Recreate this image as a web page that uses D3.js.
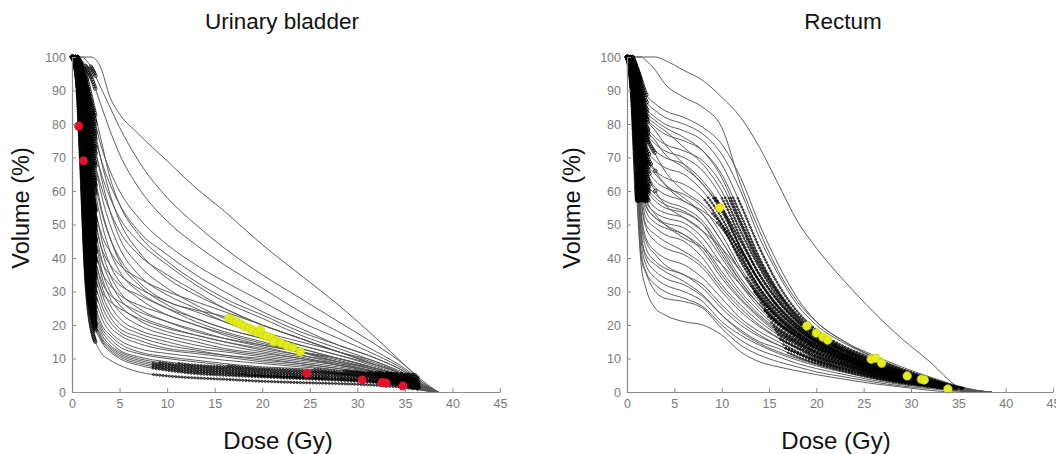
<!DOCTYPE html>
<html><head><meta charset="utf-8">
<script src="https://cdn.jsdelivr.net/npm/d3@7"></script>
<style>
body{margin:0;background:#fff}
text{font-family:Arial,"Liberation Sans",Helvetica,sans-serif}
.tick text{font-family:"Liberation Sans Narrow","Liberation Sans",Arial,sans-serif}
</style>
</head><body>
<svg id="chart" width="1056" height="454"></svg>
<script>
// ---------- tick labels ----------
const doseTicks = [0,5,10,15,20,25,30,35,40,45];
const volumeTicks = [0,10,20,30,40,50,60,70,80,90,100];

// ---------- Urinary bladder DVHs (volume % at each dose of bladderDose) ----------
const bladderDose = [0,0.5,1,1.5,2,3,4,5,7,10,13,16,20,24,28,32,35,37,38.5];
const bladderCurves = [
 [100,100,100,100,100,97,88,83,77,69,61,54,44,35,26,16,8,2.5,0],
 [100,100,100,99,97,91,85,79,69,58,50,43,35,28,21,14,8,3,0],
 [100,100,99,97,94,86,78,71,61,51,44,38,31,24,18,12,7,2.5,0],
 [100,100,97,92,86,74,66,60,52,44,38,33,27,21,16,11,6.5,2,0],
 [100,100,96,90,82,70,62,56,48,41,35,30,24,19,14,10,6,2,0],
 [100,100,95,87,78,66,58,52,45,38,32,27,22,17,13,9,5.5,1.8,0],
 [100,99,93,84,74,62,54,48,41,35,30,25,20,16,12,8.5,5,1.6,0],
 [100,100,98,94,88,76,64,56,47,39,33,28,23,18,14,10,6,2,0],
 [100,100,97,91,84,70,59,51,42,34,29,25,20,16,12,9,5,1.5,0],
 [100,100,96,88,80,65,54,46,38,31,26,22,18,15,12,8,5,1.5,0],
 [100,100,95,86,76,60,50,43,35,29,25,21,17,14,11,8,5,1.5,0],
 [100,99,94,84,72,56,46,39,32,26,22,19,16,13,10,7,4.5,1.5,0],
 [100,99,93,81,68,52,42,36,30,25,21,18,15,12,10,7,4,1.2,0],
 [100,99,93,82,70,55,46,40,33,27,24.5,22.5,17,12,9,6.5,4,1.2,0],
 [100,99,90,75,62,48,42,38,34,30,27,24,20,16,12,8,5,1.5,0],
 [100,99,88,72,58,44,38,35,31,27,24,21,17.5,14,11,7.5,4.5,1.4,0],
 [100,98,86,68,54,40,35,32,29,25,22,19,16,13,10,7,4.2,1.3,0],
 [100,98,84,65,50,37,32,29,26,23,20,17.5,14.5,12,9.5,6.5,4,1.2,0],
 [100,98,82,62,47,34,29,27,24,21,18.5,16,13.5,11,8.5,6,3.8,1.1,0],
 [100,97,80,58,43,31,27,25,22,19,17,15,12.5,10.5,8,5.8,3.6,1,0],
 [100,99,92,78,64,47,38,33,28,23,20,17,14,12,10,7,4,1.2,0],
 [100,99,91,76,61,44,35,30,25,21,18,16,14,12,9,7,4,1,0],
 [100,99,90,74,58,41,33,28,23,19.5,17,15,13,11,9,6.5,4,1,0],
 [100,99,89,71,55,38,30,26,21.5,18,16,14,12,10,8.5,6,3.5,1,0],
 [100,98,88,69,52,36,28,24,20,17,15,13,11.5,10,8,6,3.5,1,0],
 [100,98,87,66,49,33,26,22,18.5,16,14,12.5,11,9.5,8,6,3.5,1,0],
 [100,98,86,63,46,31,24,20.5,17.5,15,13,12,10.5,9,7.5,5.5,3,1,0],
 [100,98,85,60,43,29,22.5,19,16.5,14,12.5,11,10,8.5,7,5.5,3,1,0],
 [100,98,84,57,40,27,21,18,15.5,13,12,11,9.5,8.5,7,5,3,1,0],
 [100,97,83,55,38,25,19.5,17,14.5,12.5,11.5,10.5,9,8,6.5,5,3,0.9,0],
 [100,97,82,52,35,23,18,15.5,13,11.5,10.5,9.5,8.5,7.5,6.5,5,3,0.8,0],
 [100,97,81,50,33,21,17,14.5,12,10.5,9.5,8.5,7.5,7,6,4.5,2.8,0.8,0],
 [100,97,80,48,31,20,16,13.5,11.5,10,9,8,7,6.5,5.5,4.5,2.5,0.7,0],
 [100,96,78,46,29,19,15,12.5,10.5,9,8,7.5,6.5,6,5.5,4,2.5,0.7,0],
 [100,96,76,44,28,18,14,12,10,8.5,7.5,7,6,5.5,5,4,2.3,0.6,0],
 [100,96,74,42,27,17,13.5,11.5,9.5,8,7,6.5,5.5,5,4.5,3.5,2.2,0.6,0],
 [100,95,72,40,26,16.5,13,11,9,7.5,6.5,6,5,4.5,4,3.2,2,0.5,0],
 [100,95,70,38,25,16,12.5,10.5,8.5,7,6,5.5,4.8,4.3,3.8,3,1.8,0.5,0],
 [100,94,68,36,24,15.5,12,10,8,6.5,5.5,5,4.5,4,3.5,2.8,1.7,0.5,0],
 [100,94,66,34,20,12,9.5,8,6,4.8,4.2,3.8,3.2,2.8,2.5,2,1.3,0.4,0]
];
const bladderYellow = [[16.5,22],[16.9,21.4],[17.3,20.8],[17.7,20.3],[18.1,19.6],[18.6,19.1],[19.0,18.4],[19.5,17.8],[20.0,17.2],[20.5,16.6],[21.0,16.0],[21.5,15.2],[22.0,14.6],[22.6,13.8],[23.2,13.2],[24.0,12.0],[19.8,18.6],[21.2,15.0]];
const bladderRed = [[0.7,79.4],[1.2,69],[24.7,5.6],[30.5,3.6],[32.6,2.8],[33.0,2.7],[34.8,1.8]];

// ---------- Rectum DVHs (volume % at each dose of rectumDose) ----------
const rectumDose = [0,0.5,1,1.5,2,3,4,6,8,10,12,14,16,18,20,23,26,29,32,35,37,38.5];
const rectumCurves = [
 [100,100,100,100,100,100,99,96,93,88,82,73,62,51,43,33,24,16,9,1.5,0,0],
 [100,100,100,100,99,96,92,88,85,79,62,48,36,27,21,15,10.5,7,4,1.5,0.3,0],
 [100,100,97,93,89,86,84,82,79,74,64,50,38,28,21,15,11,7.5,4.5,1.8,0.5,0],
 [100,100,97,92,87,84,82,80,77,71,60,46,35,26,20,14.5,10.5,7,4.2,1.6,0.4,0],
 [100,99,96,90,85,82,80,78,75,68,56,43,32,24,18.5,13.5,10,6.8,4,1.5,0.4,0],
 [100,99,95,88,82,79,77,75,72,65,53,40,30,23,18,13,9.5,6.5,3.8,1.4,0.3,0],
 [100,99,94,86,80,76,74,72,69,62,50,38,29,22,17,12.5,9,6,3.5,1.3,0.3,0],
 [100,99,93,84,78,74,72,70,66,58,46,35,27,21,16.5,12,8.5,5.8,3.3,1.2,0.3,0],
 [100,98,92,82,76,72,70,68,63,55,43,33,25.5,20,16,11.5,8,5.5,3.2,1.2,0.3,0],
 [100,98,91,80,73,69,67,65,60,52,41,31,24,19,15,11,7.8,5.2,3,1.1,0.3,0],
 [100,98,90,78,70,66,64,62,58,50,39,30,23,18.5,15,11,7.5,5,3,1,0.2,0],
 [100,98,89,76,68,63,61,59,55,47,37,29,22.5,18,14.5,10.5,7.2,4.8,2.8,1,0.2,0],
 [100,97,88,74,65,61,59,57,53,45,36,28,22,17.5,14,10,7,4.6,2.7,0.9,0.2,0],
 [100,97,87,72,63,59,57,55,51,43,34,27,21,17,13.5,9.8,6.8,4.5,2.6,0.9,0.2,0],
 [100,97,86,70,61,57,55,53.5,50,42,33,26,20.5,16.5,13,9.5,6.5,4.3,2.5,0.8,0.2,0],
 [100,96,85,68,59,55,53.5,52,48,40,32,25,20,16,12.5,9.2,6.3,4.1,2.4,0.8,0.2,0],
 [100,96,84,66,57,53.5,52,50.5,46,38,30,24,19,15.5,12,9,6,4,2.3,0.8,0.2,0],
 [100,96,83,64,55.5,52,50.5,49,44,36,29,23,18.5,15,11.5,8.5,5.8,3.8,2.2,0.7,0.1,0],
 [100,95,82,62,54,50.5,49,47,42,34,27.5,22,17.5,14.5,11,8.2,5.6,3.6,2.1,0.7,0.1,0],
 [100,95,80,60,52,49,47,45,40,32,26,21,17,14,10.5,8,5.4,3.5,2,0.7,0.1,0],
 [100,95,78,57,49,45,43,41,37,30,24,19.5,16,13,10,7.5,5,3.3,1.9,0.6,0.1,0],
 [100,94,76,54,46,42,40,38,34,28,22,18,15,12,9.5,7,4.8,3.1,1.8,0.6,0.1,0],
 [100,94,74,51,43,39,37,35,31,25,20,16.5,14,11.5,9,6.6,4.5,2.9,1.7,0.5,0.1,0],
 [100,93,72,48,40,36,34,32,28.5,23,18.5,15,13,10.5,8.5,6.2,4.2,2.7,1.6,0.5,0,0],
 [100,93,70,45,38,34,32,30,27,21,17,14,11.5,9.5,7.8,5.8,4,2.5,1.5,0.5,0,0],
 [100,92,67,42,36,32,30,28,25.5,20,15.5,12.5,10.5,8.5,7,5.2,3.5,2.2,1.3,0.4,0,0],
 [100,91,63,40,35.5,30,28,27,25,19,14,11,9,7.5,6,4.5,3,1.8,1,0.3,0,0],
 [100,90,60,38,31,25,23,21,20,17,12,9,7.5,6.3,5.2,3.8,2.5,1.5,0.5,0,0,0],
 [100,99,95,89,84,81,79,76,72,64,51,39,29.5,22.5,17.5,12.8,9.2,6.2,3.6,1.3,0.3,0],
 [100,98,93,85,79,75,71,67,62,54,43,33,25,19.5,15.5,11.2,7.8,5.2,3,1.1,0.2,0],
 [100,97,89,77,69,65,62,58,53,45,36,28,22,17.5,14,10.2,7,4.6,2.7,0.9,0.2,0],
 [100,96,86,71,62,58,56,54,50,41,33,26,20.5,16.5,13,9.5,6.4,4.2,2.5,0.8,0.1,0],
 [100,95,83,65,56,52,50,47,43,35,28,22.5,18,14.8,11.8,8.6,5.9,3.8,2.2,0.7,0.1,0],
 [100,94,79,58,50,47,45,42,38,31,25,20,16.2,13.3,10.6,7.8,5.3,3.4,2,0.6,0.1,0],
 [100,93,75,52,45,41,38,35,32,26,21,17,14,11.5,9.3,6.9,4.7,3,1.7,0.5,0,0],
 [100,92,71,47,41,38,36,33,29,23,18,14.5,12,10,8.2,6,4.1,2.6,1.5,0.4,0,0],
 [100,99,94,87,82,78,74,68,62,55,45,35,27,21,16.5,12,8.5,5.7,3.3,1.2,0.3,0],
 [100,98,92,83,77,71,66,60,56,50,42,33,25.5,20,15.5,11.3,8,5.3,3.1,1.1,0.2,0],
 [100,97,90,80,72,66,62,57,54,49,40,31,24,19,15,10.8,7.6,5,2.9,1,0.2,0],
 [100,99,95,88,83,80,78,73,68,60,48,37,28,21.5,17,12.3,8.8,5.9,3.4,1.2,0.3,0],
 [100,97,88,76,66,60,56,52,48,43,36,28.5,22,17.5,14,10.3,7.2,4.7,2.7,0.9,0.2,0],
 [100,96,84,68,58,53,50,46,43,38,32,26,20.5,16.6,13.3,9.8,6.8,4.4,2.5,0.8,0.1,0]
];
const rectumYellow = [[9.8,55],[19.0,19.7],[20.0,17.6],[20.7,16.4],[21.2,15.5],[25.8,9.8],[26.3,10.1],[26.9,8.6],[29.6,4.8],[31.1,3.8],[31.4,3.6],[33.9,0.9]];

// ---------- drawing ----------
const svg = d3.select("#chart");
const yScale = d3.scaleLinear().domain([0,100]).range([392,57]);

function panel(o){
  const x = d3.scaleLinear().domain([0,45]).range([o.x0, o.x45]);
  const g = svg.append("g");
  const line = d3.line().x(d=>x(d[0])).y(d=>yScale(d[1])).curve(d3.curveMonotoneX);
  const markers = [];
  o.curves.forEach((c,ci)=>{
    const pts = o.dose.map((d,i)=>[d,c[i]]).filter(p=>p[1]!==undefined);
    const p = g.append("path").attr("d", line(pts))
      .attr("fill","none").attr("stroke","#555").attr("stroke-width",0.95);
    const node = p.node(), L = node.getTotalLength();
    let prev = node.getPointAtLength(0), lastMark = -99;
    for(let s=0; s<=L; s+=0.8){
      const q = node.getPointAtLength(s);
      const steep = Math.abs(q.y-prev.y) > 1.6*Math.abs(q.x-prev.x);
      prev = q;
      const r = o.dense(x.invert(q.x), yScale.invert(q.y), steep, c);
      if(r>0 && s-lastMark >= (r>1.4?1.6:2.8)){ markers.push([q.x,q.y,r]); lastMark = s; }
    }
  });
  g.append("g").selectAll("circle").data(markers).join("circle")
    .attr("cx",d=>d[0]).attr("cy",d=>d[1]).attr("r",d=>d[2])
    .attr("fill","none").attr("stroke","#000").attr("stroke-width",0.8);
  g.append("g").selectAll("circle").data(o.yellow).join("circle")
    .attr("cx",d=>x(d[0])).attr("cy",d=>yScale(d[1])).attr("r",4.3)
    .attr("fill","#e2ec1a").attr("stroke","#c8d010").attr("stroke-width",0.6);
  g.append("g").selectAll("circle").data(o.red||[]).join("circle")
    .attr("cx",d=>x(d[0])).attr("cy",d=>yScale(d[1])).attr("r",4.5)
    .attr("fill","#e5102c");

  const ax = g.append("g").attr("transform",`translate(0,392)`)
    .call(d3.axisBottom(x).tickValues(doseTicks).tickSize(-4).tickSizeOuter(0).tickPadding(7));
  const ay = g.append("g").attr("transform",`translate(${o.x0},0)`)
    .call(d3.axisLeft(yScale).tickValues(volumeTicks).tickSize(-4).tickSizeOuter(0).tickPadding(6));
  [ax,ay].forEach(a=>{
    a.select(".domain").attr("stroke","#8a8a8a").attr("stroke-width",1.2);
    a.selectAll(".tick line").attr("stroke","#8a8a8a");
    a.selectAll(".tick text").attr("fill","#7a7a7a").attr("font-size",12.5);
  });
  g.append("text").attr("x",o.titleX).attr("y",29).attr("text-anchor","middle")
    .attr("font-size",22.5).attr("fill","#111").text(o.title);
  g.append("text").attr("x",o.doseX).attr("y",449).attr("text-anchor","middle")
    .attr("font-size",24).attr("fill","#111").text("Dose (Gy)");
  g.append("text").attr("transform",`translate(${o.ylabX},208) rotate(-90)`)
    .attr("text-anchor","middle").attr("font-size",23.5).attr("fill","#111").text("Volume (%)");
}

panel({x0:72, x45:500, dose:bladderDose, curves:bladderCurves, yellow:bladderYellow, red:bladderRed,
  title:"Urinary bladder", titleX:282, doseX:278, ylabX:29,
  dense:(d,v,steep)=> (d<=0.7 || (d<=2.5 && steep)) ? 1.7
        : (d>=8.5 && d<=36.5 && v<=10-0.13*d && v>=0.8) ? 1.1 : 0});
panel({x0:627, x45:1053, dose:rectumDose, curves:rectumCurves, yellow:rectumYellow,
  title:"Rectum", titleX:843, doseX:836, ylabX:580,
  dense:(d,v,steep,c)=> (d<=0.7 || (d<=3 && steep && v>=57)) ? 1.7
        : (c[14]>=8.5 && c[14]<=19 && d>=8 && d<=36 && v>=100-5.2*d && v<=58 && v>=1) ? 0.9 : 0});
</script>
</body></html>
